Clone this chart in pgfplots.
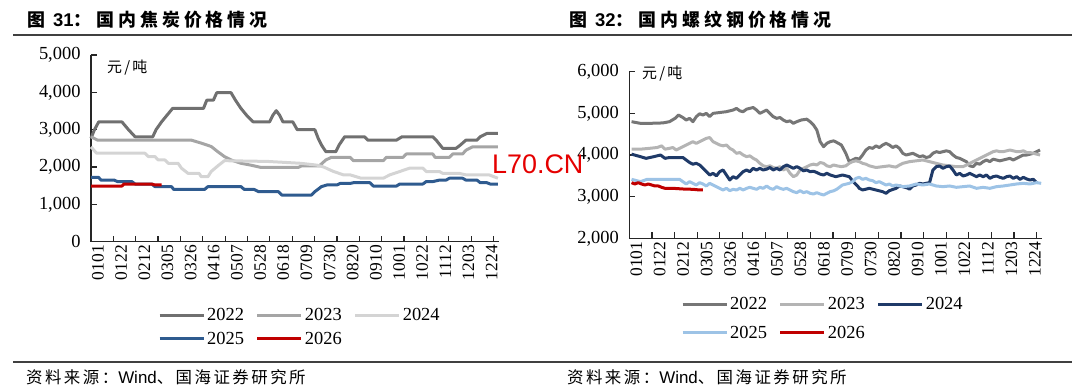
\documentclass[border=0pt]{standalone}
\usepackage{pgfplots}
\pgfplotsset{compat=1.18}
\usepackage{fontspec}
\setmainfont{Liberation Serif}
\newfontfamily\arial{Liberation Sans}
\newfontfamily\cjktitle{Noto Sans CJK SC}[LetterSpace=22]
\newfontfamily\cjksrc{Noto Sans CJK SC}[LetterSpace=15]
\newfontfamily\cjkunit{Noto Sans CJK SC}[LetterSpace=15]

\definecolor{gA}{RGB}{112,112,112}
\definecolor{gB}{RGB}{165,165,165}
\definecolor{gC}{RGB}{212,212,212}
\definecolor{bL}{RGB}{47,91,143}
\definecolor{rR}{RGB}{192,0,0}
\definecolor{rgA}{RGB}{118,118,118}
\definecolor{rgB}{RGB}{180,180,180}
\definecolor{rNavy}{RGB}{31,58,104}
\definecolor{rLight}{RGB}{157,195,230}

\pgfplotsset{
  mychart/.style={
    scale only axis,
    axis x line*=bottom, axis y line*=left,
    axis line style={-, line width=1.2bp, black!85},
    tick style={line width=1.2bp, black!85},
    major tick length=6bp,
    xmin=0, xmax=370,
    xtick={20.28,40.56,60.83,81.11,101.39,121.67,141.94,162.22,182.5,202.78,223.06,243.33,263.61,283.89,304.17,324.44,344.72,365},
    xticklabels={},
    extra x ticks={0,21,42,63,84,105,126,147,168,189,210,231,252,273,294,315,336,357},
    extra x tick labels={0101,0122,0212,0305,0326,0416,0507,0528,0618,0709,0730,0820,0910,1001,1022,1112,1203,1224},
    extra x tick style={major tick length=0pt},
    x tick label style={rotate=90, anchor=east, font=\fontsize{17.5}{18}\selectfont, yshift=-7bp},
    y tick label style={font=\fontsize{18.5}{20}\selectfont, xshift=-7bp},
    /pgf/number format/assume math mode=true,
    /pgf/number format/1000 sep={,},
    scaled y ticks=false,
    clip=false,
    legend columns=3,
    legend image code/.code={\draw[#1, line width=3bp] (0bp,0bp) -- (44bp,0bp);},
    legend style={draw=none, fill=none, inner sep=0pt,
      font=\fontsize{18.5}{20}\selectfont,
      /tikz/every even column/.append style={column sep=10bp}},
    every axis plot/.append style={line width=3bp, line join=round, mark=none},
  }
}

\begin{document}
\begin{tikzpicture}
\useasboundingbox (0,0) rectangle (1080bp,-388bp);
\draw[line width=1.4bp, black!75] (13bp,-35bp) -- (1072bp,-35bp);
\draw[line width=1.4bp, black!75] (13bp,-362bp) -- (1072bp,-362bp);
\node[anchor=west, inner sep=0pt] at (27bp,-20bp) {\cjktitle\fontsize{18}{20}\selectfont\bfseries 图 {\arial\fontsize{18.5}{20}\selectfont\bfseries 31}：\hspace{5bp}国内焦炭价格情况};
\node[anchor=west, inner sep=0pt] at (569bp,-20bp) {\cjktitle\fontsize{18}{20}\selectfont\bfseries 图 {\arial\fontsize{18.5}{20}\selectfont\bfseries 32}：\hspace{5bp}国内螺纹钢价格情况};
\node[anchor=west, inner sep=0pt] at (26bp,-377bp) {\cjksrc\fontsize{16.5}{18}\selectfont 资料来源：{\arial\fontsize{17}{18}\selectfont Wind}、国海证券研究所};
\node[anchor=west, inner sep=0pt] at (567bp,-377bp) {\cjksrc\fontsize{16.5}{18}\selectfont 资料来源：{\arial\fontsize{17}{18}\selectfont Wind}、国海证券研究所};
\node[anchor=west, inner sep=0pt] at (107bp,-68bp) {\cjkunit\fontsize{15}{16}\selectfont 元/吨};
\node[anchor=west, inner sep=0pt] at (642bp,-74bp) {\cjkunit\fontsize{15}{16}\selectfont 元/吨};

% Left: coke
\begin{axis}[mychart, at={(91bp,-241.7bp)}, anchor=south west, width=408bp, height=186.7bp,
  ymin=0, ymax=5000, ytick={0,1000,2000,3000,4000,5000},
  legend style={at={(0.164,-0.345)}, anchor=north west, row sep=6bp}]
\addplot[color=gA] coordinates {(0,2770)(3,2990)(7,3210)(28,3210)(34,3000)(40,2810)(56,2810)(59,3000)(64,3210)(69,3390)(74,3570)(102,3570)(105,3790)(111,3790)(114,3990)(127,3990)(131,3790)(136,3570)(141,3390)(147,3210)(162,3210)(165,3390)(168,3510)(171,3390)(174,3210)(183,3210)(187,3000)(203,3000)(206,2770)(209,2590)(213,2410)(222,2410)(225,2590)(230,2810)(248,2810)(251,2720)(277,2720)(282,2810)(310,2810)(313,2720)(319,2500)(331,2500)(335,2590)(340,2720)(350,2720)(353,2810)(359,2900)(369,2900)};
\addplot[color=gB] coordinates {(0,2810)(6,2720)(91,2720)(100,2640)(109,2550)(115,2410)(121,2280)(127,2190)(136,2100)(145,2050)(154,1990)(188,1990)(191,2030)(207,2030)(213,2190)(218,2260)(235,2260)(238,2170)(265,2170)(268,2260)(283,2260)(286,2350)(310,2350)(312,2260)(325,2260)(328,2350)(337,2350)(340,2450)(346,2540)(369,2540)};
\addplot[color=gC] coordinates {(0,2540)(5,2370)(49,2370)(52,2280)(58,2280)(61,2190)(67,2190)(70,2100)(79,2100)(82,1970)(88,1830)(98,1830)(100,1740)(106,1740)(109,1880)(115,2030)(121,2170)(160,2150)(190,2100)(205,2050)(211,2000)(220,1880)(229,1790)(235,1790)(245,1700)(265,1700)(271,1790)(280,1880)(289,1970)(301,1970)(304,1880)(316,1880)(319,1830)(334,1830)(340,1790)(361,1790)(369,1700)};
\addplot[color=bL] coordinates {(0,1720)(7,1720)(9,1650)(21,1650)(24,1610)(37,1610)(40,1545)(55,1545)(58,1475)(73,1475)(75,1400)(103,1400)(106,1475)(136,1475)(139,1400)(148,1400)(152,1340)(170,1340)(173,1250)(200,1250)(203,1340)(209,1475)(214,1520)(223,1520)(226,1560)(235,1560)(238,1580)(253,1580)(256,1490)(277,1490)(280,1545)(301,1545)(304,1610)(310,1610)(316,1650)(322,1650)(325,1700)(337,1700)(340,1650)(350,1650)(353,1580)(359,1580)(362,1545)(369,1545)};
\addplot[color=rR] coordinates {(0,1490)(28,1490)(30,1545)(55,1545)(58,1520)(64,1520)};
\legend{2022,2023,2024,2025,2026}
\end{axis}

% Right: rebar
\begin{axis}[mychart, at={(629.3bp,-238.3bp)}, anchor=south west, width=413bp, height=166.6bp,
  ymin=2000, ymax=6000, ytick={2000,3000,4000,5000,6000},
  legend style={at={(0.125,-0.34)}, anchor=north west, row sep=11bp}]
\addplot[color=rgA] coordinates {(2,4800)(10,4760)(18,4760)(30,4770)(36,4800)(41,4880)(44,4960)(48,4900)(51,4840)(54,4880)(57,4800)(60,4920)(63,4990)(66,4960)(69,5000)(72,4920)(75,5000)(81,5020)(87,5040)(93,5080)(96,5120)(99,5060)(102,5040)(105,5100)(108,5120)(111,5140)(114,5080)(117,5000)(120,5040)(123,5080)(126,5000)(129,4920)(132,4880)(135,4900)(138,4840)(141,4800)(144,4820)(147,4760)(150,4800)(154,4840)(159,4860)(162,4800)(165,4720)(168,4600)(171,4320)(174,4200)(177,4280)(180,4320)(183,4340)(186,4300)(190,4240)(194,4040)(197,3840)(200,3880)(203,3920)(206,3900)(209,4000)(212,4120)(215,4180)(218,4160)(221,4220)(224,4180)(227,4240)(230,4280)(233,4240)(236,4180)(239,4220)(242,4160)(245,4040)(248,4000)(251,4020)(254,4040)(257,4000)(260,3960)(263,3980)(266,3940)(269,3960)(272,4040)(275,4080)(278,4060)(281,4080)(284,4100)(287,4080)(290,4000)(293,3940)(296,3920)(299,3880)(302,3840)(305,3740)(308,3720)(311,3800)(314,3780)(317,3840)(320,3880)(323,3840)(326,3900)(329,3880)(332,3860)(335,3880)(338,3900)(341,3920)(344,3880)(347,3920)(350,3960)(353,4000)(356,4000)(359,4020)(362,4040)(365,4080)(368,4120)};
\addplot[color=rgB] coordinates {(2,4140)(10,4140)(18,4160)(25,4180)(29,4220)(32,4140)(36,4160)(39,4180)(42,4120)(45,4160)(51,4240)(54,4280)(57,4320)(60,4280)(63,4320)(66,4360)(69,4400)(72,4420)(75,4320)(78,4280)(81,4240)(84,4220)(87,4240)(90,4160)(93,4120)(96,4040)(99,4060)(102,4000)(105,3960)(108,3980)(111,3920)(114,3880)(117,3800)(120,3740)(123,3720)(126,3740)(129,3700)(132,3680)(135,3720)(138,3640)(141,3680)(144,3560)(147,3480)(150,3520)(153,3640)(156,3680)(159,3720)(162,3760)(165,3780)(168,3760)(171,3820)(174,3800)(177,3740)(180,3720)(183,3760)(186,3740)(190,3720)(194,3740)(197,3800)(200,3840)(203,3860)(206,3840)(209,3800)(212,3780)(215,3740)(218,3720)(221,3700)(224,3710)(227,3720)(230,3730)(233,3740)(236,3720)(239,3710)(242,3760)(245,3800)(248,3820)(251,3840)(254,3850)(257,3860)(260,3870)(263,3880)(266,3860)(269,3840)(272,3820)(275,3800)(281,3760)(287,3740)(293,3720)(299,3720)(302,3760)(305,3800)(308,3840)(311,3880)(314,3920)(317,3960)(320,4000)(323,4040)(326,4080)(329,4100)(332,4080)(335,4080)(338,4100)(341,4120)(344,4100)(347,4080)(350,4080)(353,4100)(356,4060)(359,4060)(362,4040)(365,4020)(368,4000)};
\addplot[color=rNavy] coordinates {(2,4020)(10,3960)(15,3920)(22,3960)(28,4000)(32,3920)(36,3940)(48,3940)(51,3880)(54,3820)(57,3780)(60,3800)(63,3760)(66,3680)(69,3600)(72,3520)(75,3560)(78,3500)(81,3600)(84,3640)(87,3520)(90,3400)(93,3480)(96,3440)(99,3520)(102,3600)(105,3640)(108,3600)(111,3680)(114,3640)(117,3680)(120,3640)(123,3660)(126,3700)(129,3640)(132,3680)(135,3640)(138,3720)(141,3760)(144,3720)(147,3680)(150,3720)(153,3680)(156,3620)(159,3640)(162,3600)(165,3610)(168,3580)(171,3540)(174,3520)(177,3560)(180,3520)(185,3480)(191,3520)(197,3480)(202,3320)(205,3240)(206,3200)(209,3160)(215,3200)(221,3160)(227,3120)(230,3080)(233,3144)(239,3200)(242,3256)(245,3240)(250,3200)(251,3176)(254,3256)(257,3280)(260,3320)(263,3304)(266,3320)(269,3336)(272,3640)(275,3720)(278,3736)(281,3680)(284,3720)(287,3736)(290,3640)(293,3520)(296,3560)(299,3496)(302,3520)(305,3560)(308,3520)(311,3480)(314,3520)(317,3480)(320,3520)(323,3440)(326,3480)(329,3496)(332,3464)(335,3440)(338,3480)(341,3496)(344,3440)(347,3480)(350,3416)(353,3464)(356,3424)(359,3400)(362,3416)(365,3336)};
\addplot[color=rLight] coordinates {(2,3416)(10,3360)(16,3416)(22,3416)(36,3416)(45,3416)(48,3360)(51,3304)(54,3360)(57,3320)(60,3280)(63,3336)(66,3304)(69,3256)(72,3320)(75,3280)(78,3240)(81,3200)(84,3160)(87,3200)(90,3144)(93,3176)(96,3160)(99,3200)(102,3160)(105,3200)(108,3224)(111,3200)(114,3176)(117,3224)(120,3200)(123,3256)(126,3200)(129,3176)(132,3240)(135,3200)(138,3176)(141,3200)(144,3160)(147,3120)(150,3096)(153,3144)(156,3096)(159,3120)(162,3080)(165,3064)(168,3096)(171,3064)(174,3040)(177,3080)(180,3120)(183,3140)(186,3180)(189,3240)(191,3280)(197,3320)(200,3360)(203,3440)(206,3464)(209,3416)(212,3440)(215,3400)(218,3384)(221,3336)(224,3360)(227,3320)(230,3280)(233,3304)(236,3256)(239,3280)(245,3240)(251,3256)(257,3304)(263,3280)(269,3304)(275,3256)(281,3240)(287,3256)(293,3224)(299,3240)(305,3256)(311,3200)(317,3224)(323,3200)(329,3240)(335,3256)(341,3280)(347,3304)(353,3320)(359,3304)(365,3336)(369,3320)};
\addplot[color=rR] coordinates {(2,3336)(5,3304)(8,3336)(11,3304)(14,3280)(17,3304)(20,3280)(23,3256)(26,3256)(29,3224)(32,3200)(39,3200)(48,3184)(57,3176)(63,3160)(66,3160)};
\legend{2022,2023,2024,2025,2026}
\end{axis}

\node[anchor=west, inner sep=0pt, text=red!90!black] at (492bp,-164bp) {\arial\fontsize{27}{28}\selectfont L70.CN};
\end{tikzpicture}
\end{document}
